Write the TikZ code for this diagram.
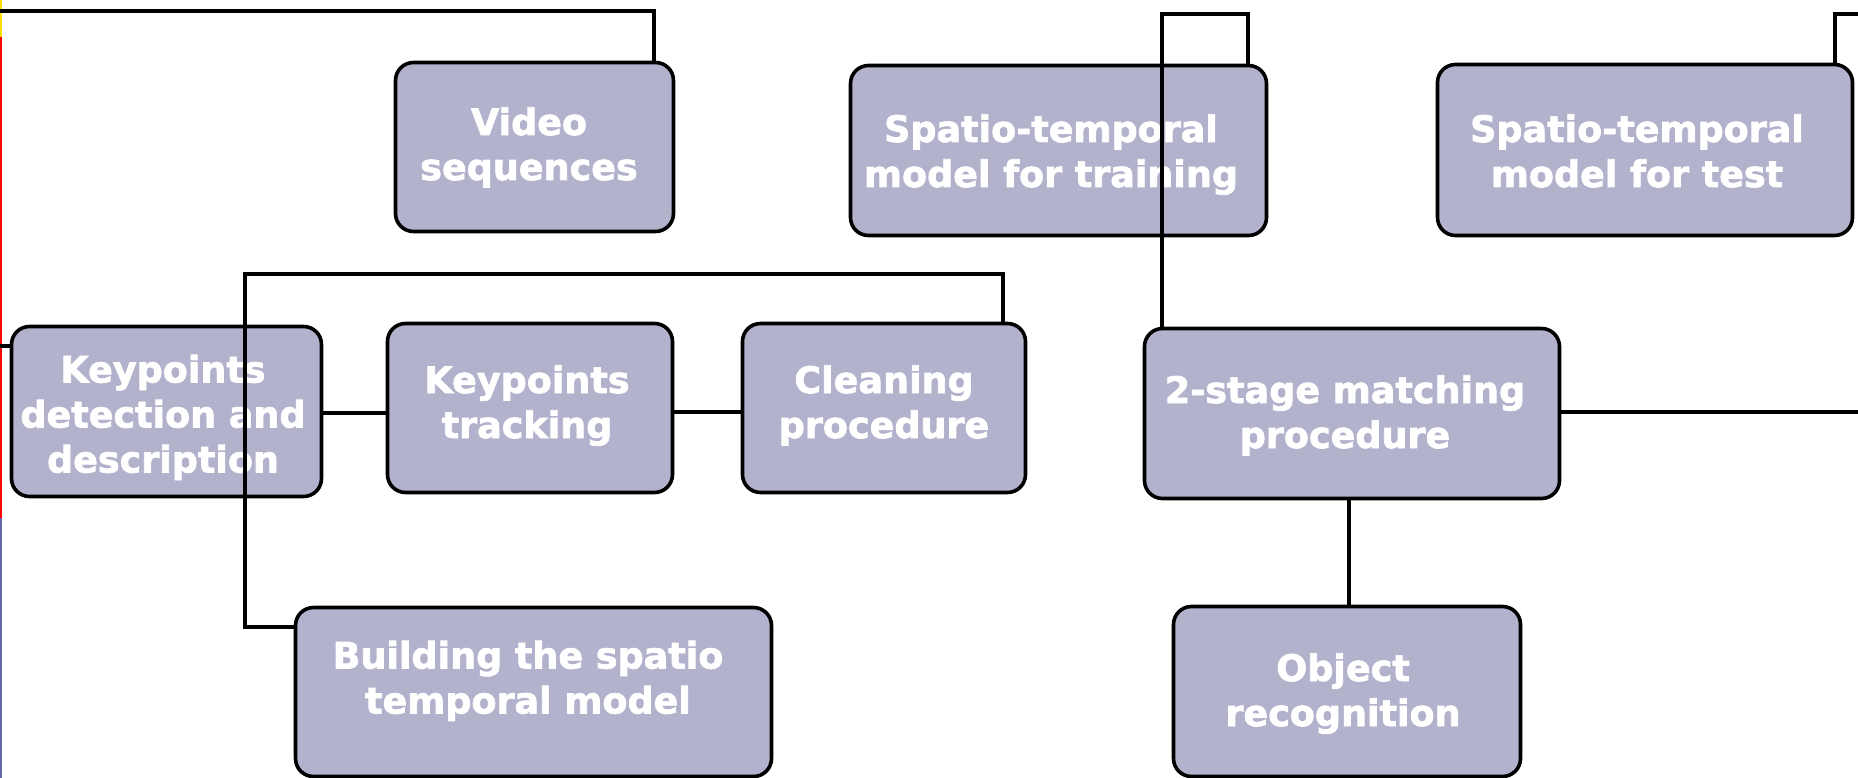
\documentclass[tikz,border=0pt]{standalone}
\usepackage{fontspec}
\newfontfamily\boxfont{DejaVu Sans Bold}[FakeBold=2]
\usetikzlibrary{calc}
\definecolor{boxfill}{RGB}{178,178,205}
\definecolor{edgeyellow}{RGB}{255,224,0}
\definecolor{edgered}{RGB}{255,0,0}
\definecolor{edgeblue}{RGB}{104,104,168}
\newcommand\mtop{\rule{0pt}{28pt}}
\newcommand\mbot{\rule[-9pt]{0pt}{9pt}}
\begin{document}
\begin{tikzpicture}[x=1pt,y=-1pt,
  box/.style={draw=black, line width=3.6pt, fill=boxfill, rounded corners=18pt, inner sep=0pt},
  lbl/.style={text=white, font=\boxfont\fontsize{36.5}{45}\selectfont, align=center, inner sep=0pt},
  wire/.style={draw=black, line width=3.4pt}]
\fill[white] (0,0) rectangle (1858,778);
\useasboundingbox (0,0) rectangle (1858,778);

% left edge strip
\draw[edgeyellow, line width=1.5pt] (0.75,0) -- (0.75,37);
\draw[edgered, line width=1.5pt] (0.75,37) -- (0.75,518);
\draw[edgeblue, line width=1.5pt] (0.75,518) -- (0.75,778);

% boxes
\node[box, minimum width=278pt, minimum height=169pt] (vid) at (534.5,147) {};
\node[box, minimum width=416pt, minimum height=170pt] (train) at (1058.5,150.5) {};
\node[box, minimum width=415pt, minimum height=171pt] (test) at (1645,150) {};
\node[box, minimum width=310pt, minimum height=170pt] (kdd) at (166.5,411.5) {};
\node[box, minimum width=285pt, minimum height=169pt] (ktr) at (530,408) {};
\node[box, minimum width=283pt, minimum height=169pt] (clean) at (884,408) {};
\node[box, minimum width=415pt, minimum height=170pt] (match) at (1352,413.5) {};
\node[box, minimum width=347pt, minimum height=170pt] (obj) at (1347,691.5) {};
\node[box, minimum width=476pt, minimum height=169pt] (build) at (533.5,692) {};

% labels
\node[lbl] (vidT) at (529,148) {\mtop Video\\sequences\mbot};
\node[lbl] (trainT) at (1051,155) {\mtop Spatio-temporal\\model for training\mbot};
\node[lbl] (testT) at (1637,155) {\mtop Spatio-temporal\\model for test\mbot};
\node[lbl] (kddT) at (163,418) {\mtop Keypoints\\detection and\\description\mbot};
\node[lbl] (ktrT) at (527,406) {\mtop Keypoints\\tracking\mbot};
\node[lbl] (cleanT) at (884,406) {\mtop Cleaning\\procedure\mbot};
\node[lbl] (matchT) at (1345,416) {\mtop 2-stage matching\\procedure\mbot};
\node[lbl] (buildT) at (528,681.5) {\mtop Building the spatio\\temporal model\mbot};
\node[lbl] (objT) at (1343,694) {\mtop Object\\recognition\mbot};

% connectors
\coordinate (tl) at (0,11);
\coordinate (xv) at (654,0);
\draw[wire] (tl) -- (tl -| xv) -- (vid.north -| xv);

\coordinate (yl) at (0,346);
\draw[wire] (yl) -- (yl -| kdd.west);

\coordinate (ym) at (0,413);
\draw[wire] (ym -| kdd.east) -- (ym -| ktr.west);
\coordinate (yn) at (0,412);
\draw[wire] (yn -| ktr.east) -- (yn -| clean.west);

\coordinate (yb) at (0,627);
\coordinate (xb) at (245,274);
\coordinate (xc) at (1003,274);
\draw[wire] (yb -| build.west) -- (yb -| xb) -- (xb) -- (xc) -- (clean.north -| xc);

\coordinate (xm) at (1162,14);
\coordinate (xt) at (1248,14);
\draw[wire] (match.north -| xm) -- (xm) -- (xt) -- (train.north -| xt);

\coordinate (xs) at (1835,14);
\coordinate (re) at (1858,14);
\draw[wire] (test.north -| xs) -- (xs) -- (re);

\coordinate (rr) at (1858,412);
\draw[wire] (match.east |- rr) -- (rr);

\coordinate (xo) at (1349,0);
\draw[wire] (match.south -| xo) -- (obj.north -| xo);
\end{tikzpicture}
\end{document}
